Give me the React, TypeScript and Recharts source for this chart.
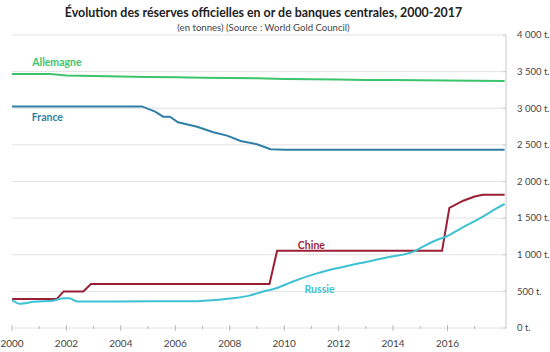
import React from 'react';
import { LineChart, Line, XAxis, YAxis, CartesianGrid, ReferenceDot } from 'recharts';

// [année, tonnes]
const allemagne = [
  [2000, 3469], [2001.4, 3468], [2002, 3446], [2003, 3440], [2004, 3433], [2005, 3428],
  [2006, 3423], [2007, 3417], [2008, 3413], [2009, 3408], [2010, 3401], [2011, 3396],
  [2012, 3391], [2013, 3387], [2014, 3384], [2015, 3381], [2016, 3378], [2017, 3376], [2018.1, 3372],
];

const france = [
  [2000, 3025], [2004.77, 3025], [2005.26, 2953], [2005.55, 2885], [2005.8, 2885],
  [2006.1, 2808], [2006.8, 2748], [2007.4, 2672], [2007.9, 2626], [2008.4, 2553],
  [2009.0, 2508], [2009.5, 2440], [2010, 2435], [2018.1, 2435],
];

const chine = [
  [2000, 395], [2001.64, 395], [2001.9, 500], [2002.62, 500], [2002.9, 600],
  [2009.46, 600], [2009.74, 1054], [2015.8, 1054], [2016.07, 1640], [2016.58, 1738],
  [2017.0, 1795], [2017.3, 1820], [2018.1, 1820],
];

const russie = [
  [2000, 382], [2000.3, 330], [2000.8, 359], [2001.5, 373], [2001.9, 405], [2002.1, 405],
  [2002.4, 362], [2004, 362], [2005.5, 365], [2006.8, 366], [2007.4, 378], [2008.1, 405],
  [2008.75, 445], [2009.2, 496], [2009.7, 542], [2010.3, 632], [2011.2, 746], [2012.2, 837],
  [2013.05, 905], [2013.9, 973], [2014.75, 1042], [2015.1, 1110], [2015.6, 1201],
  [2016.0, 1256], [2016.5, 1361], [2017.3, 1520], [2017.8, 1634], [2018.1, 1693],
];

const yearTicks = [2000, 2001, 2002, 2003, 2004, 2005, 2006, 2007, 2008, 2009, 2010, 2011, 2012, 2013, 2014, 2015, 2016, 2017];
const tonneTicks = [0, 500, 1000, 1500, 2000, 2500, 3000, 3500, 4000];

const toRows = (pts: number[][]) => pts.map(([x, v]) => ({ x, v }));

const fmtTonnes = (v: number) => {
  const s = String(v);
  const withSpace = s.length > 3 ? s.slice(0, s.length - 3) + '\u00a0' + s.slice(-3) : s;
  return withSpace + ' t.';
};

const FONT = 'Lato, "Open Sans", sans-serif';

function YearTick(props: any) {
  const { x, y, payload } = props;
  const major = payload.value % 2 === 0;
  return (
    <g>
      <line x1={x} x2={x} y1={major ? y - 3 : y - 2} y2={major ? y + 3 : y + 1} stroke="#b8b8b8" strokeWidth={1} />
      {major && (
        <text x={x} y={y + 19} textAnchor="middle" fontSize={10} fill="#444" fontFamily={FONT}>
          {payload.value}
        </text>
      )}
    </g>
  );
}

function TonneTick(props: any) {
  const { x, y, payload } = props;
  return (
    <g>
      <line x1={x - 14} x2={x - 11} y1={y} y2={y} stroke="#c8c8c8" strokeWidth={1} />
      <text x={x} y={y} dy="0.35em" textAnchor="start" fontSize={9.5} fill="#444" fontFamily={FONT}>
        {fmtTonnes(payload.value)}
      </text>
    </g>
  );
}

function SeriesLabel(text: string, color: string) {
  return (props: any) => {
    const { viewBox } = props;
    const cx = viewBox.x + (viewBox.width || 0) / 2;
    const cy = viewBox.y + (viewBox.height || 0) / 2;
    return (
      <text x={cx} y={cy} dy="0.35em" textAnchor="middle" fontSize={10.5} fontWeight={700} fill={color} fontFamily={FONT}>
        {text}
      </text>
    );
  };
}

export default function App() {
  return (
    <div style={{ position: 'absolute', left: 0, top: 0, width: 550, height: 352, background: '#fff', fontFamily: FONT }}>
      <div style={{ position: 'absolute', top: 5, left: 0, width: 527, textAlign: 'center', fontSize: 12.4, fontWeight: 700, color: '#222' }}>
        Évolution des réserves officielles en or de banques centrales, 2000-2017
      </div>
      <div style={{ position: 'absolute', top: 22, left: 0, width: 527, textAlign: 'center', fontSize: 9.6, color: '#444' }}>
        (en tonnes) (Source : World Gold Council)
      </div>
      <LineChart width={550} height={352} margin={{ top: 35, right: 0, bottom: 0, left: 12 }}>
        <CartesianGrid vertical={false} stroke="#e2e2e2" />
        <XAxis
          type="number"
          dataKey="x"
          domain={[2000, 2018.15]}
          ticks={yearTicks}
          interval={0}
          height={24}
          axisLine={false}
          tickLine={false}
          tickSize={0}
          tickMargin={0}
          tick={<YearTick />}
          allowDataOverflow
        />
        <YAxis
          orientation="right"
          type="number"
          domain={[0, 4000]}
          ticks={tonneTicks}
          width={44}
          axisLine={{ stroke: '#c8c8c8' }}
          tickLine={false}
          tickSize={0}
          tickMargin={11}
          tick={<TonneTick />}
        />
        <Line data={toRows(allemagne)} dataKey="v" type="linear" stroke="#3cc46c" strokeWidth={2} dot={false} isAnimationActive={false} />
        <Line data={toRows(france)} dataKey="v" type="linear" stroke="#2f7fa6" strokeWidth={2} dot={false} isAnimationActive={false} />
        <Line data={toRows(chine)} dataKey="v" type="linear" stroke="#9a1f35" strokeWidth={2} dot={false} isAnimationActive={false} />
        <Line data={toRows(russie)} dataKey="v" type="monotone" stroke="#3ec1d3" strokeWidth={2} dot={false} isAnimationActive={false} />
        <ReferenceDot x={2001.65} y={3631} r={0} label={SeriesLabel('Allemagne', '#3cc46c')} />
        <ReferenceDot x={2001.3} y={2880} r={0} label={SeriesLabel('France', '#2f7fa6')} />
        <ReferenceDot x={2011.0} y={1133} r={0} label={SeriesLabel('Chine', '#9a1f35')} />
        <ReferenceDot x={2011.3} y={532} r={0} label={SeriesLabel('Russie', '#3ec1d3')} />
      </LineChart>
    </div>
  );
}
